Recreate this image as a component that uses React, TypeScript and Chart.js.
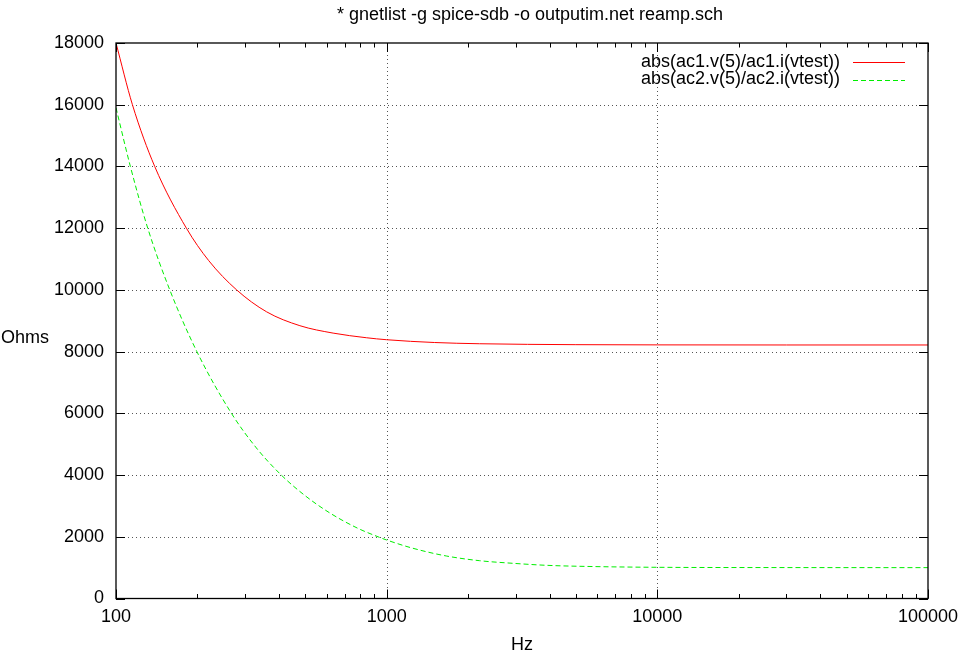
import React, { useEffect, useRef } from 'react';
import { Chart, registerables } from 'chart.js';

Chart.register(...registerables);

const TITLE = '* gnetlist -g spice-sdb -o outputim.net reamp.sch';
const X_TITLE = 'Hz';
const Y_TITLE = 'Ohms';
const SERIES_LABELS = ['abs(ac1.v(5)/ac1.i(vtest))', 'abs(ac2.v(5)/ac2.i(vtest))'];
const SERIES_COLORS = ['#ff0000', '#00ee00'];

// ac1 series (red, solid)
const freqAc1 = [100, 115, 139, 182, 220, 279, 360, 478, 634, 841, 1000, 1500, 2200, 5000, 10000, 30000, 100000];
const ohmsAc1 = [18000, 16000, 14000, 12000, 10950, 10000, 9290, 8840, 8600, 8450, 8385, 8295, 8255, 8225, 8218, 8215, 8215];

// ac2 series (green, dashed)
const freqAc2 = [100, 113, 131, 158, 199, 267, 330, 408, 500, 617, 780, 929, 1000, 1250, 1660, 2200, 2920, 3880, 5150, 10000, 30000, 100000];
const ohmsAc2 = [15900, 14000, 12000, 10000, 8000, 6000, 4880, 4000, 3330, 2770, 2280, 2000, 1895, 1628, 1378, 1226, 1141, 1076, 1044, 1011, 1002, 1000];

const xMajorTicks = [100, 1000, 10000, 100000];
const xTickLabels = ['100', '1000', '10000', '100000'];
const xMinorMultipliers = [2, 3, 4, 5, 6, 7, 8, 9];
const yTicks = [0, 2000, 4000, 6000, 8000, 10000, 12000, 14000, 16000, 18000];
const yTickLabels = ['0', '2000', '4000', '6000', '8000', '10000', '12000', '14000', '16000', '18000'];

const FONT_FAMILY = '"Liberation Sans", Arial, Helvetica, sans-serif';
const FONT_SIZE = 18;

const xAllTicks: number[] = [];
xMajorTicks.forEach((m, i) => {
  xAllTicks.push(m);
  if (i < xMajorTicks.length - 1) xMinorMultipliers.forEach((k) => xAllTicks.push(m * k));
});

const gnuplotPlugin = {
  id: 'gnuplotFrame',
  beforeDatasetsDraw(chart: any) {
    const { ctx, chartArea, scales } = chart;
    const { left, right, top, bottom } = chartArea;
    const x = scales.x;
    const y = scales.y;
    ctx.save();
    ctx.strokeStyle = '#555555';
    ctx.lineWidth = 1;
    ctx.setLineDash([1, 3]);
    yTicks.forEach((v, i) => {
      if (i === 0 || i === yTicks.length - 1) return;
      const py = Math.round(y.getPixelForValue(v)) + 0.5;
      ctx.beginPath();
      ctx.moveTo(left, py);
      ctx.lineTo(right, py);
      ctx.stroke();
    });
    xMajorTicks.forEach((v, i) => {
      if (i === 0 || i === xMajorTicks.length - 1) return;
      const px = Math.round(x.getPixelForValue(v)) + 0.5;
      ctx.beginPath();
      ctx.moveTo(px, top);
      ctx.lineTo(px, bottom);
      ctx.stroke();
    });
    ctx.restore();
  },
  afterDraw(chart: any) {
    const { ctx, chartArea, scales } = chart;
    const { left, right, top, bottom } = chartArea;
    const x = scales.x;
    const y = scales.y;
    ctx.save();
    ctx.setLineDash([]);
    ctx.strokeStyle = '#000000';
    ctx.lineWidth = 1.3;
    ctx.strokeRect(left, top, right - left, bottom - top);
    ctx.lineWidth = 1;
    xAllTicks.forEach((v) => {
      const major = xMajorTicks.includes(v);
      const len = major ? 9 : 4.5;
      const px = Math.round(x.getPixelForValue(v)) + 0.5;
      ctx.beginPath();
      ctx.moveTo(px, bottom);
      ctx.lineTo(px, bottom - len);
      ctx.moveTo(px, top);
      ctx.lineTo(px, top + len);
      ctx.stroke();
    });
    yTicks.forEach((v) => {
      const py = Math.round(y.getPixelForValue(v)) + 0.5;
      ctx.beginPath();
      ctx.moveTo(left, py);
      ctx.lineTo(left + 9, py);
      ctx.moveTo(right, py);
      ctx.lineTo(right - 9, py);
      ctx.stroke();
    });

    ctx.fillStyle = '#000000';
    ctx.font = `${FONT_SIZE}px ${FONT_FAMILY}`;
    ctx.textBaseline = 'middle';
    ctx.textAlign = 'center';
    ctx.fillText(TITLE, 530, 15);
    ctx.fillText(Y_TITLE, 25, 338);
    const rows = [62, 79.5];
    SERIES_LABELS.forEach((label, i) => {
      ctx.textAlign = 'right';
      ctx.fillStyle = '#000000';
      ctx.fillText(label, 840, rows[i]);
      ctx.strokeStyle = SERIES_COLORS[i];
      ctx.lineWidth = 1;
      ctx.setLineDash(i === 1 ? [5, 3] : []);
      ctx.beginPath();
      ctx.moveTo(853, Math.round(rows[i]) + 0.5);
      ctx.lineTo(905, Math.round(rows[i]) + 0.5);
      ctx.stroke();
    });
    ctx.restore();
  },
};

export default function App() {
  const canvasRef = useRef<HTMLCanvasElement | null>(null);

  useEffect(() => {
    const canvas = canvasRef.current;
    if (!canvas) return;
    const chart = new Chart(canvas, {
      type: 'line',
      data: {
        datasets: [
          {
            label: SERIES_LABELS[0],
            data: freqAc1.map((f, i) => ({ x: f, y: ohmsAc1[i] })),
            borderColor: SERIES_COLORS[0],
            backgroundColor: SERIES_COLORS[0],
            borderWidth: 1,
            pointRadius: 0,
            cubicInterpolationMode: 'monotone',
            fill: false,
          },
          {
            label: SERIES_LABELS[1],
            data: freqAc2.map((f, i) => ({ x: f, y: ohmsAc2[i] })),
            borderColor: SERIES_COLORS[1],
            backgroundColor: SERIES_COLORS[1],
            borderWidth: 1,
            borderDash: [5, 3],
            pointRadius: 0,
            cubicInterpolationMode: 'monotone',
            fill: false,
          },
        ],
      },
      options: {
        responsive: false,
        animation: false,
        devicePixelRatio: 1,
        layout: { padding: { left: 0, right: 35, top: 43, bottom: 0 } },
        plugins: {
          legend: { display: false },
          title: { display: false },
          tooltip: { enabled: false },
        },
        scales: {
          x: {
            type: 'logarithmic',
            min: 100,
            max: 100000,
            afterBuildTicks: (scale: any) => {
              scale.ticks = xAllTicks.map((v) => ({ value: v }));
            },
            afterFit: (scale: any) => {
              scale.height = 60.5;
              scale.paddingLeft = 0;
              scale.paddingRight = 0;
            },
            grid: { display: false, drawTicks: false },
            border: { display: false },
            ticks: {
              autoSkip: false,
              maxRotation: 0,
              padding: 8,
              color: '#000000',
              font: { family: FONT_FAMILY, size: FONT_SIZE },
              callback: (value: any) => {
                const idx = xMajorTicks.indexOf(Number(value));
                return idx >= 0 ? xTickLabels[idx] : '';
              },
            },
            title: {
              display: true,
              text: X_TITLE,
              color: '#000000',
              font: { family: FONT_FAMILY, size: FONT_SIZE },
              padding: { top: 0, bottom: 3 },
            },
          },
          y: {
            type: 'linear',
            min: 0,
            max: 18000,
            afterBuildTicks: (scale: any) => {
              scale.ticks = yTicks.map((v) => ({ value: v }));
            },
            afterFit: (scale: any) => {
              scale.width = 116;
              scale.paddingTop = 0;
              scale.paddingBottom = 0;
            },
            grid: { display: false, drawTicks: false },
            border: { display: false },
            ticks: {
              padding: 12,
              color: '#000000',
              font: { family: FONT_FAMILY, size: FONT_SIZE },
              callback: (value: any) => {
                const idx = yTicks.indexOf(Number(value));
                return idx >= 0 ? yTickLabels[idx] : '';
              },
            },
          },
        },
      },
      plugins: [gnuplotPlugin],
    } as any);
    return () => chart.destroy();
  }, []);

  return (
    <div style={{ position: 'absolute', left: 0, top: 0, width: 963, height: 659, background: '#ffffff' }}>
      <canvas ref={canvasRef} width={963} height={659} style={{ display: 'block', width: 963, height: 659 }} />
    </div>
  );
}
